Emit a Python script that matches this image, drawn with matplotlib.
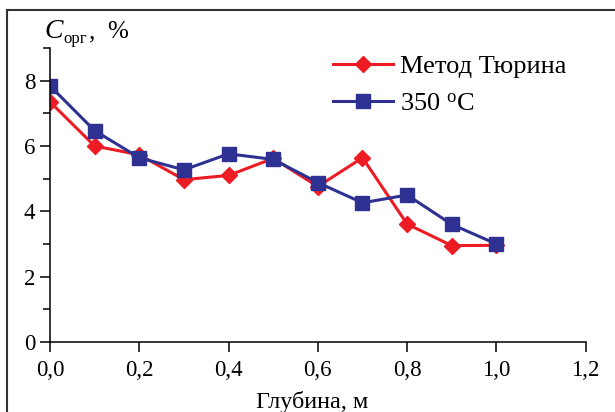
import matplotlib
matplotlib.use("Agg")
import matplotlib.pyplot as plt
from matplotlib.lines import Line2D
from matplotlib.ticker import MultipleLocator, FuncFormatter

plt.rcParams["font.family"] = ["Liberation Serif", "DejaVu Serif"]
plt.rcParams["mathtext.fontset"] = "custom"
plt.rcParams["mathtext.rm"] = "Liberation Serif"
plt.rcParams["mathtext.it"] = "Liberation Serif:italic"

depth = [0.0, 0.1, 0.2, 0.3, 0.4, 0.5, 0.6, 0.7, 0.8, 0.9, 1.0]
c_tyurin = [7.35, 6.0, 5.73, 4.97, 5.1, 5.62, 4.76, 5.64, 3.61, 2.95, 2.96]
c_350 = [7.84, 6.47, 5.64, 5.27, 5.76, 5.59, 4.88, 4.26, 4.5, 3.6, 3.0]

RED = "#ED1C24"
BLUE = "#2E3192"

fig = plt.figure(figsize=(6.15, 4.12), dpi=100)
W, H = 615, 412
ax = fig.add_axes([50 / W, (H - 342) / H, (585.7 - 50) / W, (342 - 48) / H])

ax.plot(depth, c_tyurin, color=RED, lw=2.2, marker="D", ms=8,
        label="Метод Тюрина")
ax.plot(depth, c_350, color=BLUE, lw=2.2, marker="s", ms=9.5,
        label=r"350 $^{\mathrm{o}}$C")

ax.set_xlim(0, 1.2)
ax.set_ylim(0, 9)
ax.xaxis.set_major_locator(MultipleLocator(0.2))
ax.yaxis.set_major_locator(MultipleLocator(2))
ax.yaxis.set_minor_locator(MultipleLocator(1))
ax.xaxis.set_major_formatter(FuncFormatter(lambda v, p: f"{v:.1f}".replace(".", ",")))
ax.tick_params(axis="both", which="major", direction="out", length=7,
               width=1.1, labelsize=16.5)
ax.tick_params(axis="y", which="minor", direction="out", length=5, width=1.1)
ax.tick_params(axis="x", pad=6)
for s in ("top", "right"):
    ax.spines[s].set_visible(False)
for s in ("left", "bottom"):
    ax.spines[s].set_linewidth(1.1)

fig.legend(loc="upper left", bbox_to_anchor=(333 / W, 1 - 55 / H),
           frameon=False, fontsize=19, handlelength=2.27, handletextpad=0.27,
           labelspacing=0.52, borderpad=0, borderaxespad=0)

# y label: C_org, %
fig.text(44 / W, 1 - 38 / H, "C", fontsize=20, style="italic", ha="left",
         va="baseline")
fig.text(63 / W, 1 - 43 / H, "орг", fontsize=12, ha="left", va="baseline")
fig.text(89 / W, 1 - 38 / H, ",", fontsize=18, ha="left", va="baseline")
fig.text(107 / W, 1 - 38 / H, "%", fontsize=18, ha="left", va="baseline")

fig.text(312 / W, 1 - 408 / H, "Глубина, м", fontsize=17.5, ha="center",
         va="baseline")

# outer frame
fig.add_artist(Line2D([7 / W, 7 / W], [0, 1 - 10 / H], color="#333333",
                      lw=1.5, transform=fig.transFigure))
fig.add_artist(Line2D([7 / W, 1], [1 - 10 / H, 1 - 10 / H], color="#333333",
                      lw=1.5, transform=fig.transFigure))

fig.savefig("out.png", dpi=100)
